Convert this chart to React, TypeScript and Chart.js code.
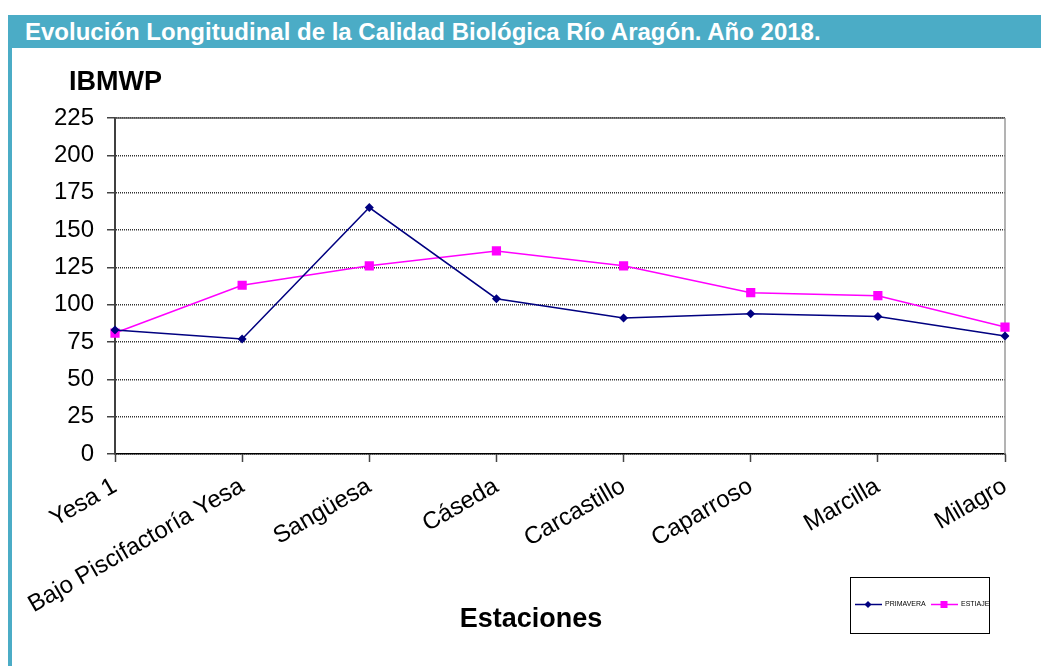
import React, { useEffect, useRef } from 'react';
import { Chart, registerables } from 'chart.js';

Chart.register(...registerables);

const categories = [
  'Yesa 1',
  'Bajo Piscifactoría Yesa',
  'Sangüesa',
  'Cáseda',
  'Carcastillo',
  'Caparroso',
  'Marcilla',
  'Milagro',
];
const primavera = [83, 77, 165, 104, 91, 94, 92, 79];
const estiaje = [81, 113, 126, 136, 126, 108, 106, 85];
const yMin = 0;
const yMax = 225;
const yStep = 25;

const TITLE = 'Evolución Longitudinal de la Calidad Biológica Río Aragón. Año 2018.';
const Y_TITLE = 'IBMWP';
const X_TITLE = 'Estaciones';
const SERIES_NAMES = ['PRIMAVERA', 'ESTIAJE'];
const NAVY = '#000080';
const MAGENTA = '#FF00FF';
const TEAL = '#4BACC6';
const FONT = 'Arial, "Liberation Sans", sans-serif';

const decoPlugin = {
  id: 'deco',
  beforeDatasetsDraw(chart: any) {
    const { ctx, chartArea: a } = chart;
    ctx.save();
    ctx.lineWidth = 1.5;
    ctx.strokeStyle = '#555555';
    ctx.beginPath();
    ctx.moveTo(a.left, a.top);
    ctx.lineTo(a.right, a.top);
    ctx.stroke();
    ctx.strokeStyle = '#9a9a9a';
    ctx.beginPath();
    ctx.moveTo(a.right, a.top);
    ctx.lineTo(a.right, a.bottom);
    ctx.stroke();
    ctx.restore();
  },
  afterDraw(chart: any) {
    const { ctx } = chart;
    ctx.save();
    // Axis titles
    ctx.fillStyle = '#000';
    ctx.font = `bold 27px ${FONT}`;
    ctx.textBaseline = 'alphabetic';
    ctx.textAlign = 'left';
    ctx.fillText(Y_TITLE, 47, 42);
    ctx.textAlign = 'center';
    ctx.fillText(X_TITLE, 509, 579);

    // Legend box
    const bx = 828, by = 529, bw = 139, bh = 56;
    ctx.strokeStyle = '#000';
    ctx.lineWidth = 1;
    ctx.strokeRect(bx + 0.5, by + 0.5, bw, bh);
    const ly = 556.5;
    // PRIMAVERA
    ctx.strokeStyle = NAVY;
    ctx.lineWidth = 1.5;
    ctx.beginPath();
    ctx.moveTo(833, ly);
    ctx.lineTo(860, ly);
    ctx.stroke();
    ctx.fillStyle = NAVY;
    ctx.beginPath();
    ctx.moveTo(846, ly - 3.5);
    ctx.lineTo(849.5, ly);
    ctx.lineTo(846, ly + 3.5);
    ctx.lineTo(842.5, ly);
    ctx.closePath();
    ctx.fill();
    // ESTIAJE
    ctx.strokeStyle = MAGENTA;
    ctx.beginPath();
    ctx.moveTo(909, ly);
    ctx.lineTo(936, ly);
    ctx.stroke();
    ctx.fillStyle = MAGENTA;
    ctx.fillRect(918.5, ly - 3.5, 7, 7);
    ctx.fillStyle = '#000';
    ctx.font = `7px ${FONT}`;
    ctx.textAlign = 'left';
    ctx.textBaseline = 'middle';
    ctx.fillText(SERIES_NAMES[0], 863, ly);
    ctx.fillText(SERIES_NAMES[1], 939, ly);
    ctx.restore();
  },
};

export default function App() {
  const canvasRef = useRef<HTMLCanvasElement | null>(null);

  useEffect(() => {
    const canvas = canvasRef.current;
    if (!canvas) return;
    const chart = new Chart(canvas, {
      type: 'line',
      data: {
        labels: categories,
        datasets: [
          {
            label: SERIES_NAMES[0],
            data: primavera,
            borderColor: NAVY,
            backgroundColor: NAVY,
            borderWidth: 1.5,
            pointStyle: 'rectRot',
            pointRadius: 4.5,
            pointBorderWidth: 0,
            tension: 0,
          },
          {
            label: SERIES_NAMES[1],
            data: estiaje,
            borderColor: MAGENTA,
            backgroundColor: MAGENTA,
            borderWidth: 1.5,
            pointStyle: 'rect',
            pointRadius: 6.5,
            pointBorderWidth: 0,
            tension: 0,
          },
        ],
      },
      options: {
        animation: false,
        responsive: false,
        maintainAspectRatio: false,
        layout: { padding: { top: 70, right: 36, bottom: 0, left: 0 } },
        plugins: {
          legend: { display: false },
          title: { display: false },
          tooltip: { enabled: false },
        },
        scales: {
          x: {
            type: 'category',
            offset: false,
            afterFit(scale: any) {
              scale.height = 212;
              scale.paddingLeft = 0;
              scale.paddingRight = 0;
            },
            grid: {
              display: true,
              drawOnChartArea: false,
              drawTicks: true,
              tickLength: 8,
              tickColor: '#444444',
              tickWidth: 1.5,
            },
            border: { display: true, color: '#000000', width: 1.5 },
            ticks: {
              autoSkip: false,
              minRotation: 30,
              maxRotation: 30,
              padding: 10,
              color: '#000',
              font: { family: FONT, size: 24 },
            },
          },
          y: {
            min: yMin,
            max: yMax,
            afterFit(scale: any) {
              scale.width = 93;
              scale.paddingTop = 0;
              scale.paddingBottom = 0;
            },
            grid: {
              display: true,
              drawOnChartArea: true,
              drawTicks: true,
              tickLength: 8,
              color: '#333333',
              lineWidth: 1.5,
              tickColor: '#444444',
              tickWidth: 1.5,
              tickBorderDash: [],
            },
            border: { display: true, color: '#404040', width: 2, dash: [1, 1] },
            ticks: {
              stepSize: yStep,
              padding: 13,
              color: '#000',
              font: { family: FONT, size: 24 },
            },
          },
        },
      },
      plugins: [decoPlugin],
    });
    return () => chart.destroy();
  }, []);

  return (
    <div style={{ position: 'absolute', left: 0, top: 0, width: 1041, height: 666, background: '#fff', overflow: 'hidden' }}>
      <div
        style={{
          position: 'absolute',
          left: 8,
          top: 15,
          width: 1033,
          height: 33,
          background: TEAL,
          color: '#fff',
          fontFamily: FONT,
          fontWeight: 'bold',
          fontSize: 24,
          lineHeight: '33px',
          paddingLeft: 17,
          boxSizing: 'border-box',
          whiteSpace: 'nowrap',
        }}
      >
        {TITLE}
      </div>
      <div style={{ position: 'absolute', left: 8, top: 48, width: 4, height: 618, background: TEAL }} />
      <canvas
        ref={canvasRef}
        width={1019}
        height={618}
        style={{ position: 'absolute', left: 22, top: 48, width: 1019, height: 618 }}
      />
    </div>
  );
}
